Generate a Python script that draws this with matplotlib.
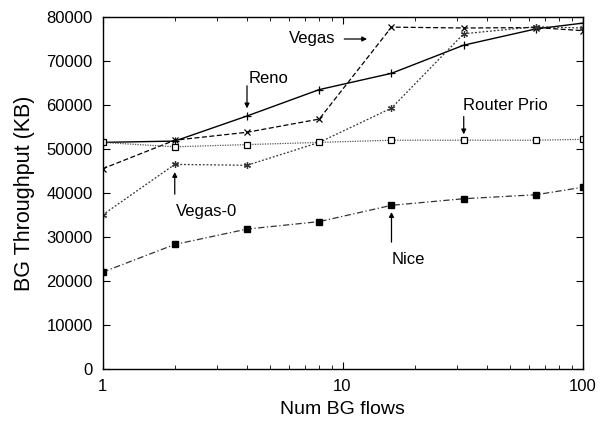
import numpy as np
import matplotlib
matplotlib.use("Agg")
import matplotlib.pyplot as plt

plt.rcParams['font.family'] = ['Liberation Sans', 'DejaVu Sans']

# data
flows = [1, 2, 4, 8, 16, 32, 64, 100]
reno = [51500, 51800, 57500, 63500, 67200, 73600, 77300, 78600]
vegas = [45500, 52000, 53800, 56800, 77700, 77500, 77600, 76900]
vegas0 = [35000, 46500, 46300, 51500, 59300, 76200, 77800, 77500]
router_prio = [51500, 50500, 51000, 51500, 52000, 52000, 52000, 52200]
nice = [22000, 28300, 31800, 33500, 37200, 38700, 39600, 41300]

fig = plt.figure(figsize=(6.05, 4.22), dpi=100)
ax = fig.add_axes([102.5 / 605, 1 - 369 / 422, (582.5 - 102.5) / 605, (369 - 17) / 422])

ax.plot(flows, reno, color='black', lw=1.0, ls='-', marker='+', ms=6, mew=0.9)
ax.plot(flows, vegas, color='black', lw=0.9, ls=(0, (4, 2)), marker='x', ms=4.5, mew=0.9)
ax.plot(flows, vegas0, color='#333333', lw=0.9, ls=(0, (1.5, 1.5)), marker=(6, 2, 0), ms=5, mew=0.9)
ax.plot(flows, router_prio, color='#555555', lw=0.9, ls=(0, (1, 1)), marker='s', ms=4.5,
        mfc='white', mec='black', mew=0.9)
ax.plot(flows, nice, color='#333333', lw=0.9, ls=(0, (5, 2, 1, 2)), marker='s', ms=5,
        mfc='black', mec='black')

ax.set_xscale('log')
ax.set_xlim(1, 100)
ax.set_ylim(0, 80000)
ax.set_yticks(np.arange(0, 80001, 10000))
ax.set_xticks([1, 10, 100])
ax.set_xticklabels(['1', '10', '100'])
ax.tick_params(which='both', direction='in', top=True, right=True, labelsize=12, pad=7)
ax.tick_params(which='major', length=5)
ax.tick_params(which='minor', length=3)
for s in ax.spines.values():
    s.set_linewidth(1.0)

ax.set_xlabel('Num BG flows', fontsize=14, labelpad=5)
ax.set_ylabel('BG Throughput (KB)', fontsize=15.5, labelpad=8)

arrow = dict(arrowstyle='-|>', color='black', lw=0.9, mutation_scale=7)
ax.text(6.0, 75000, 'Vegas', fontsize=12, ha='left', va='center')
ax.annotate('', xy=(13.0, 75000), xytext=(9.9, 75000), arrowprops=arrow)
ax.annotate('', xy=(4, 58600), xytext=(4, 65000), arrowprops=arrow)
ax.text(4.05, 66100, 'Reno', fontsize=12, ha='left', va='center')
ax.annotate('', xy=(32, 52700), xytext=(32, 58000), arrowprops=arrow)
ax.text(31.8, 59800, 'Router Prio', fontsize=12, ha='left', va='center')
ax.annotate('', xy=(2, 45400), xytext=(2, 39100), arrowprops=arrow)
ax.text(2.02, 35900, 'Vegas-0', fontsize=12, ha='left', va='center')
ax.annotate('', xy=(16, 36300), xytext=(16, 28200), arrowprops=arrow)
ax.text(16, 25000, 'Nice', fontsize=12, ha='left', va='center')

fig.savefig('out.png', dpi=100)
